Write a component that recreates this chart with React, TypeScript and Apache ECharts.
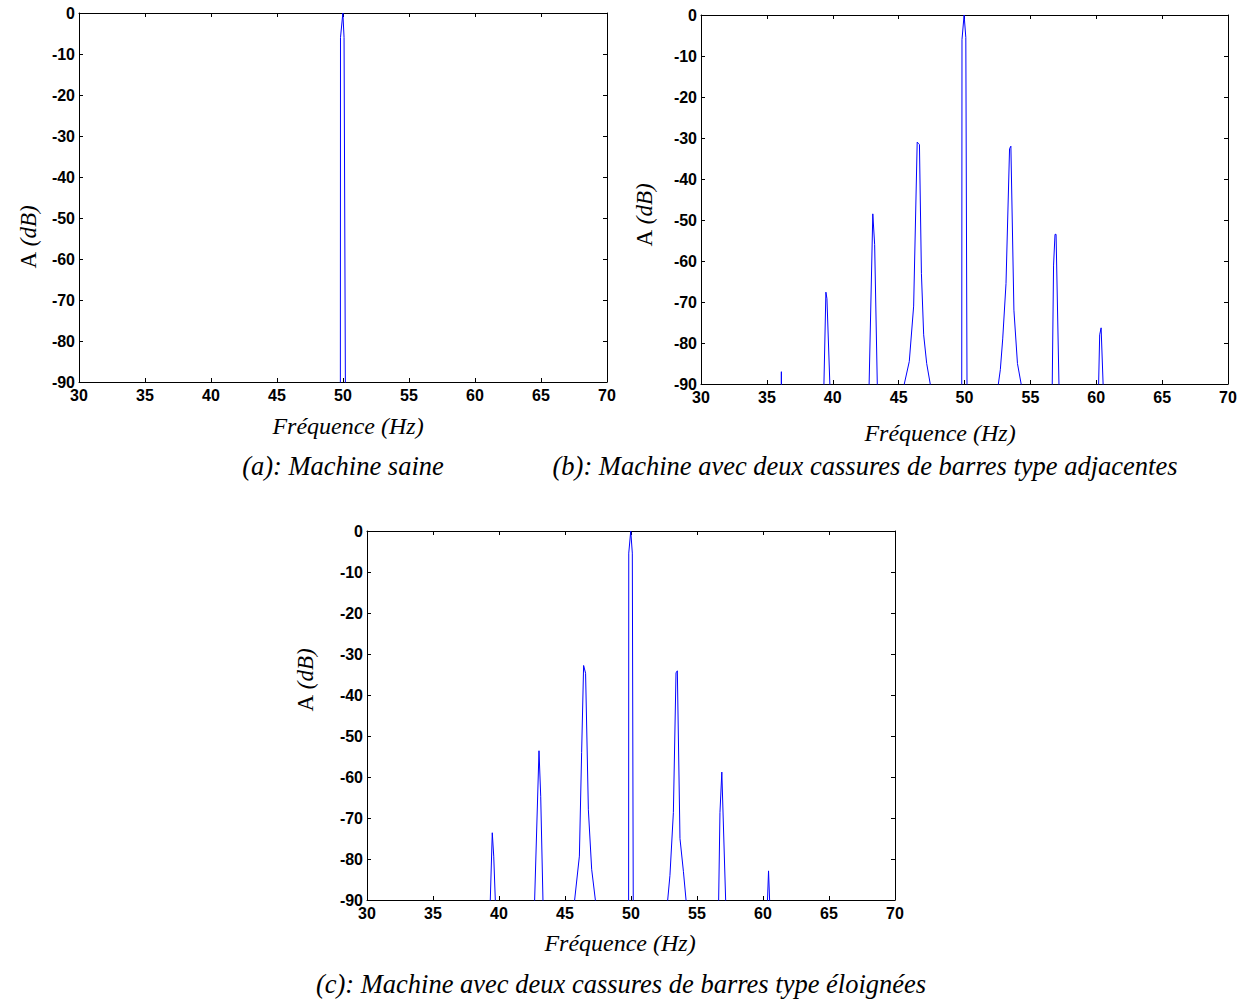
import React, { useEffect, useRef } from "react";
import * as echarts from "echarts";

// Frequency axis ticks (Hz) and amplitude axis ticks (dB)
const xTicks = [30, 35, 40, 45, 50, 55, 60, 65, 70];
const yTicks = [-90, -80, -70, -60, -50, -40, -30, -20, -10, 0];

// (a) healthy machine
const freqA = [49.78, 49.8, 49.81, 49.99, 50.08, 50.18, 50.2];
const ampA = [-200, -90, -6, 0, -6, -90, -200];

// (b) two adjacent broken bars
const freqB = [
  36.07, 36.1, 36.13,
  39.32, 39.33, 39.48, 39.56, 39.78, 39.8,
  42.74, 42.76, 43.04, 43.18, 43.38, 43.4,
  45.41, 45.43, 45.81, 46.14, 46.41, 46.5, 46.58, 46.73, 46.9, 47.13, 47.4, 47.42,
  49.77, 49.79, 49.81, 49.97, 50.1, 50.19, 50.21,
  52.55, 52.57, 52.72, 52.9, 53.15, 53.42, 53.52, 53.75, 54.02, 54.3, 54.32,
  56.64, 56.66, 56.76, 56.87, 56.95, 57.17, 57.19,
  60.16, 60.18, 60.26, 60.37, 60.52, 60.54,
];
const ampB = [
  -200, -87, -200,
  -200, -90, -67.6, -69.2, -90, -200,
  -200, -90, -48.5, -56, -90, -200,
  -200, -90, -84.5, -71, -31, -31.3, -31.6, -63, -78, -85, -90, -200,
  -200, -90, -6, 0, -5.5, -90, -200,
  -200, -90, -86.5, -79, -65.5, -32.6, -32, -72, -85, -90, -200,
  -200, -90, -61, -53.5, -53.5, -90, -200,
  -200, -90, -78, -76.3, -90, -200,
];

// (c) two distant broken bars
const freqC = [
  39.32, 39.34, 39.49, 39.6, 39.72, 39.74,
  42.68, 42.7, 43.03, 43.16, 43.33, 43.35,
  45.71, 45.73, 46.09, 46.26, 46.41, 46.56, 46.77, 47.02, 47.3, 47.32,
  49.8, 49.82, 49.83, 49.98, 50.1, 50.17, 50.19,
  52.76, 52.78, 52.95, 53.21, 53.41, 53.51, 53.71, 53.97, 54.17, 54.19,
  56.62, 56.64, 56.74, 56.88, 57.17, 57.19,
  60.32, 60.34, 60.42, 60.5, 60.52,
];
const ampC = [
  -200, -90, -73.6, -79.3, -90, -200,
  -200, -90, -53.6, -64.7, -90, -200,
  -200, -90, -79.3, -54, -32.8, -34.7, -68, -82.5, -90, -200,
  -200, -90, -5.4, 0, -5.4, -90, -200,
  -200, -90, -84, -68.7, -34.6, -34.1, -75, -83, -90, -200,
  -200, -90, -68.7, -58.8, -90, -200,
  -200, -90, -82.9, -90, -200,
];

const captions = [
  "(a): Machine saine",
  "(b): Machine avec deux cassures de barres type adjacentes",
  "(c): Machine avec deux cassures de barres type éloignées",
];
const xName = "Fréquence (Hz)";
const yNameMain = "A";
const yNameUnit = "(dB)";

const TICK_FONT = "'Liberation Sans', Arial, sans-serif";
const SERIF = "'Liberation Serif', 'Times New Roman', serif";

export default function App() {
  const ref = useRef<HTMLDivElement>(null);

  useEffect(() => {
    if (!ref.current) return;
    const chart = echarts.init(ref.current, undefined, { renderer: "svg" });

    const grids = [
      { left: 79, top: 13, width: 528, height: 369 },
      { left: 701, top: 15, width: 527, height: 369 },
      { left: 367, top: 531, width: 528, height: 369 },
    ];
    // label positions: [xName cx, xName cy], [yName cx, yName cy], caption [cx, cy]
    const xNamePos = [
      [348, 426],
      [940, 433],
      [620, 943],
    ];
    const yNamePos = [
      [28, 237],
      [644, 215],
      [305, 680],
    ];
    const capPos = [
      [343, 466],
      [865, 466],
      [621, 984],
    ];

    const datasets = [
      freqA.map((f, i) => [f, ampA[i]]),
      freqB.map((f, i) => [f, ampB[i]]),
      freqC.map((f, i) => [f, ampC[i]]),
    ];

    const xMin = xTicks[0];
    const xMax = xTicks[xTicks.length - 1];
    const xInt = xTicks[1] - xTicks[0];
    const yMin = yTicks[0];
    const yMax = yTicks[yTicks.length - 1];
    const yInt = yTicks[1] - yTicks[0];

    const axisLine = { show: true, onZero: false, lineStyle: { color: "#000", width: 1 } };
    const tick = { show: true, inside: true, length: 4, lineStyle: { color: "#000" } };
    const tickLabel = {
      color: "#000",
      fontFamily: TICK_FONT,
      fontWeight: "bold" as const,
      fontSize: 16,
    };

    const xAxis: any[] = [];
    const yAxis: any[] = [];
    grids.forEach((g, i) => {
      xAxis.push({
        type: "value",
        gridIndex: i,
        min: xMin,
        max: xMax,
        interval: xInt,
        position: "bottom",
        axisLine,
        axisTick: tick,
        splitLine: { show: false },
        axisLabel: { ...tickLabel, margin: 5 },
      });
      xAxis.push({
        type: "value",
        gridIndex: i,
        min: xMin,
        max: xMax,
        interval: xInt,
        position: "top",
        axisLine,
        axisTick: tick,
        splitLine: { show: false },
        axisLabel: { show: false },
      });
      yAxis.push({
        type: "value",
        gridIndex: i,
        min: yMin,
        max: yMax,
        interval: yInt,
        position: "left",
        axisLine,
        axisTick: tick,
        splitLine: { show: false },
        axisLabel: { ...tickLabel, margin: 4 },
      });
      yAxis.push({
        type: "value",
        gridIndex: i,
        min: yMin,
        max: yMax,
        interval: yInt,
        position: "right",
        axisLine,
        axisTick: tick,
        splitLine: { show: false },
        axisLabel: { show: false },
      });
    });

    const series = datasets.map((d, i) => ({
      type: "line",
      xAxisIndex: i * 2,
      yAxisIndex: i * 2,
      data: d,
      showSymbol: false,
      symbol: "none",
      clip: true,
      lineStyle: { color: "#0000ff", width: 1 },
      silent: true,
    }));

    const graphic: any[] = [];
    grids.forEach((_, i) => {
      graphic.push({
        type: "text",
        x: xNamePos[i][0],
        y: xNamePos[i][1],
        style: {
          text: xName,
          textAlign: "center",
          textVerticalAlign: "middle",
          fill: "#000",
          font: `italic 24px ${SERIF}`,
        },
      });
      graphic.push({
        type: "text",
        x: yNamePos[i][0],
        y: yNamePos[i][1],
        rotation: Math.PI / 2,
        style: {
          text: `{u|${yNameMain}} {i|${yNameUnit}}`,
          textAlign: "center",
          textVerticalAlign: "middle",
          fill: "#000",
          font: `23px ${SERIF}`,
          rich: {
            u: { fontFamily: SERIF, fontSize: 23, fontStyle: "normal", fill: "#000" },
            i: { fontFamily: SERIF, fontSize: 23, fontStyle: "italic", fill: "#000" },
          },
        },
      });
      graphic.push({
        type: "text",
        x: capPos[i][0],
        y: capPos[i][1],
        style: {
          text: captions[i],
          textAlign: "center",
          textVerticalAlign: "middle",
          fill: "#000",
          font: `italic 26.5px ${SERIF}`,
        },
      });
    });

    chart.setOption({
      animation: false,
      backgroundColor: "#fff",
      grid: grids.map((g) => ({
        left: g.left,
        top: g.top,
        width: g.width,
        height: g.height,
        containLabel: false,
      })),
      xAxis,
      yAxis,
      series,
      graphic,
    });

    return () => chart.dispose();
  }, []);

  return (
    <div
      ref={ref}
      style={{ position: "absolute", left: 0, top: 0, width: 1252, height: 1000 }}
    />
  );
}
